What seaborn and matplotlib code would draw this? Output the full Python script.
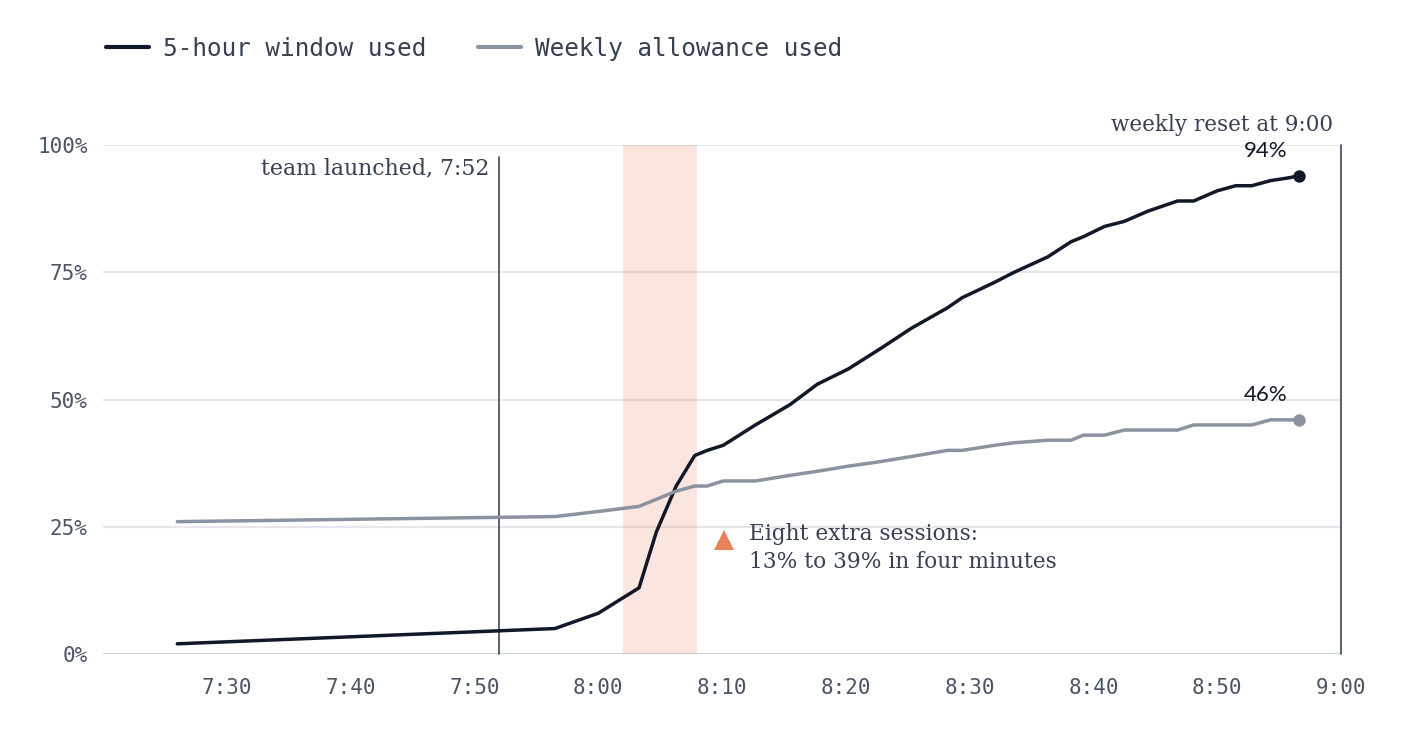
import numpy as np
import pandas as pd
import matplotlib
matplotlib.use("Agg")
import matplotlib.pyplot as plt
from matplotlib.lines import Line2D
import seaborn as sns

# ---- data (minutes after 7:00) ----
minutes = [26, 56.5, 60, 63.3, 64.7, 66.3, 67.8, 68.8, 70.1, 72.7, 75.5, 77.7,
           80.2, 82.8, 85.3, 88.2, 89.4, 92.0, 93.6, 96.3, 98.2, 99.2, 100.9,
           102.5, 104.4, 106.8, 108.1, 110.0, 111.5, 112.8, 114.3, 115.9, 116.6]
five_hour = [2, 5, 8, 13, 24, 33, 39, 40, 41, 45, 49, 53,
             56, 60, 64, 68, 70, 73, 75, 78, 81, 82, 84,
             85, 87, 89, 89, 91, 92, 92, 93, 93.6, 94]
weekly = [26, 27, 28, 29, 30.4, 32, 33, 33, 34, 34, 35.1, 35.9,
          36.9, 37.8, 38.8, 40, 40, 41, 41.5, 42, 42, 43, 43,
          44, 44, 44, 45, 45, 45, 45, 46, 46, 46]
series_names = ["5-hour window used", "Weekly allowance used"]
x_ticks = [30, 40, 50, 60, 70, 80, 90, 100, 110, 120]
x_tick_labels = ["7:30", "7:40", "7:50", "8:00", "8:10", "8:20", "8:30", "8:40", "8:50", "9:00"]
y_ticks = [0, 25, 50, 75, 100]
y_tick_labels = ["0%", "25%", "50%", "75%", "100%"]
launch_minute = 52
reset_minute = 120
burst_span = (62, 68)
burst_marker = (70.2, 22.4)

# ---- styling ----
sns.set_theme(style="white")
plt.rcParams["font.family"] = ["DejaVu Sans"]

C_DARK = "#111827"
C_GRAY = "#8b93a1"
C_TEXT = "#374151"
C_TICK = "#4b5563"
C_GRID = "#e5e7eb"
C_ORANGE = "#e8825a"
MONO = "DejaVu Sans Mono"
SERIF = "DejaVu Serif"

df = pd.DataFrame({
    "minute": minutes * 2,
    "pct": five_hour + weekly,
    "series": [series_names[0]] * len(minutes) + [series_names[1]] * len(minutes),
})

fig = plt.figure(figsize=(14.02, 7.30), dpi=100)
ax = fig.add_axes([103 / 1402, 76 / 730, (1341 - 103) / 1402, (654 - 145) / 730])

ax.set_xlim(20, 120)
ax.set_ylim(0, 100)

# grid
for yv in y_ticks:
    ax.axhline(yv, color="#d1d5db" if yv == 0 else C_GRID, lw=1.6, zorder=0)

# highlight span
ax.axvspan(burst_span[0], burst_span[1], color=C_ORANGE, alpha=0.2, lw=0, zorder=1)

# reference lines
ax.plot([launch_minute, launch_minute], [0, 97.6], color="#4b5563", lw=1.3, zorder=2, clip_on=False)
ax.plot([reset_minute, reset_minute], [0, 100], color="#4b5563", lw=1.3, zorder=2, clip_on=False)

sns.lineplot(data=df, x="minute", y="pct", hue="series", sort=False,
             palette={series_names[0]: C_DARK, series_names[1]: C_GRAY},
             linewidth=2.5, legend=False, ax=ax, zorder=3)
for ln in ax.lines:
    ln.set_solid_capstyle("round")
    ln.set_solid_joinstyle("round")

# end dots and labels
for vals, col in [(five_hour, C_DARK), (weekly, C_GRAY)]:
    ax.scatter([minutes[-1]], [vals[-1]], s=80, color=col, zorder=4, linewidths=0, clip_on=False)
    ax.annotate(f"{vals[-1]:.0f}%", xy=(minutes[-1], vals[-1]), xytext=(-8.5, 13.5),
                textcoords="offset points", ha="right", va="baseline",
                fontsize=16, color=C_DARK, family=["Lato", "DejaVu Sans"])

# annotations
ax.annotate("weekly reset at 9:00", xy=(reset_minute, 100), xytext=(-5.5, 10),
            textcoords="offset points", ha="right", va="baseline",
            fontsize=15.5, color=C_TEXT, family=SERIF, annotation_clip=False)
ax.annotate("team launched, 7:52", xy=(launch_minute, 95.3), xytext=(-7, 0),
            textcoords="offset points", ha="right", va="center",
            fontsize=15.8, color=C_TEXT, family=SERIF)
ax.plot([burst_marker[0]], [burst_marker[1]], marker="^", markersize=14,
        color=C_ORANGE, markeredgewidth=0, zorder=4)
ax.text(72.2, 20.9, "Eight extra sessions:\n13% to 39% in four minutes",
        ha="left", va="center", fontsize=15.6, color=C_TEXT, family=SERIF,
        linespacing=1.35)

# axes cosmetics
ax.set_xticks(x_ticks)
ax.set_xticklabels(x_tick_labels)
ax.set_yticks(y_ticks)
ax.set_yticklabels(y_tick_labels)
ax.tick_params(axis="both", length=0, labelsize=15, colors=C_TICK)
ax.tick_params(axis="x", pad=17)
ax.tick_params(axis="y", pad=11)
for lab in ax.get_xticklabels() + ax.get_yticklabels():
    lab.set_family(MONO)
ax.set_xlabel("")
ax.set_ylabel("")
for sp in ax.spines.values():
    sp.set_visible(False)
ax.grid(False)

# legend
handles = [Line2D([0], [0], color=C_DARK, lw=3),
           Line2D([0], [0], color=C_GRAY, lw=3)]
leg = fig.legend(handles, series_names, loc="upper left", bbox_to_anchor=(84 / 1402, 1 - 15 / 730),
                 ncol=2, frameon=False, handlelength=1.75, handletextpad=0.6,
                 columnspacing=2.1, prop={"family": MONO, "size": 17.6})
for t in leg.get_texts():
    t.set_color(C_TEXT)

fig.savefig("out.png", dpi=100)
